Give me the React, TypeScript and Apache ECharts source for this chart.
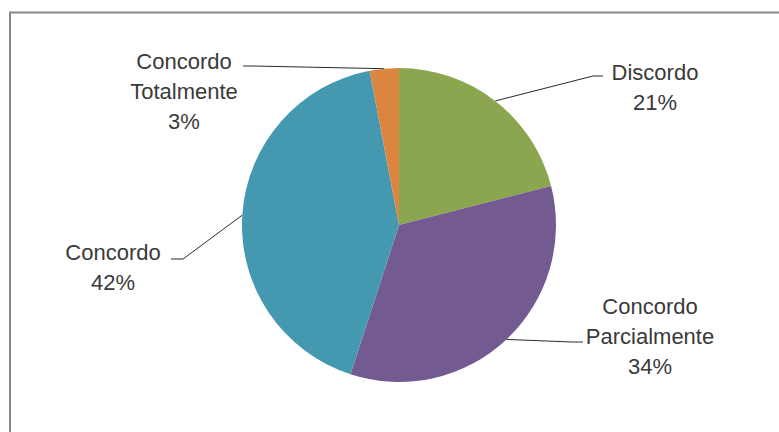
import React, { useEffect, useRef } from "react";
import * as echarts from "echarts";

const categories = ["Discordo", "Concordo\nParcialmente", "Concordo", "Concordo\nTotalmente"];
const values = [21, 34, 42, 3];
const colors = ["#8BA64E", "#735A91", "#4499B1", "#DB8540"];

// label block centres and leader-line bend/end points (layout only)
const labelPos: [number, number][] = [[655, 87], [650, 336], [113, 267], [184, 91]];
const lineBends: [number, number][][] = [
  [[593, 76], [603, 76]],
  [[572, 342], [583, 342]],
  [[183, 259], [171, 259]],
  [[253, 66], [243, 66]],
];

const CX = 399;
const CY = 225;
const R = 157;

export default function App() {
  const ref = useRef<HTMLDivElement>(null);
  useEffect(() => {
    if (!ref.current) return;
    const chart = echarts.init(ref.current, null, { renderer: "svg" });
    const total = values.reduce((a, b) => a + b, 0);
    const mids: number[] = [];
    let acc = 0;
    values.forEach((v) => {
      mids.push(((acc + v / 2) / total) * Math.PI * 2);
      acc += v;
    });
    chart.setOption({
      animation: false,
      backgroundColor: "#ffffff",
      graphic: [
        {
          type: "rect",
          shape: { x: 10, y: 12.5, width: 820, height: 500 },
          style: { fill: "none", stroke: "#878787", lineWidth: 2 },
          silent: true,
        },
      ],
      series: [
        {
          type: "pie",
          center: [CX, CY],
          radius: R,
          startAngle: 90,
          clockwise: true,
          data: categories.map((c, i) => ({
            name: c,
            value: values[i],
            itemStyle: { color: colors[i] },
          })),
          itemStyle: { borderWidth: 0 },
          label: {
            show: true,
            formatter: "{b}\n{d}%",
            fontFamily: "Liberation Sans",
            fontSize: 22,
            lineHeight: 30,
            color: "#3a3a3a",
            align: "center",
          },
          labelLine: {
            show: true,
            lineStyle: { color: "#2b2b2b", width: 1 },
          },
          labelLayout: (params: any) => {
            const i = params.dataIndex;
            const a = mids[i];
            const p0 = [CX + Math.sin(a) * R, CY - Math.cos(a) * R];
            return {
              x: labelPos[i][0],
              y: labelPos[i][1],
              align: "center",
              verticalAlign: "middle",
              labelLinePoints: [p0, lineBends[i][0], lineBends[i][1]],
            };
          },
        },
      ],
    });
    return () => chart.dispose();
  }, []);
  return (
    <div
      ref={ref}
      style={{ position: "absolute", left: 0, top: 0, width: 779, height: 432 }}
    />
  );
}
